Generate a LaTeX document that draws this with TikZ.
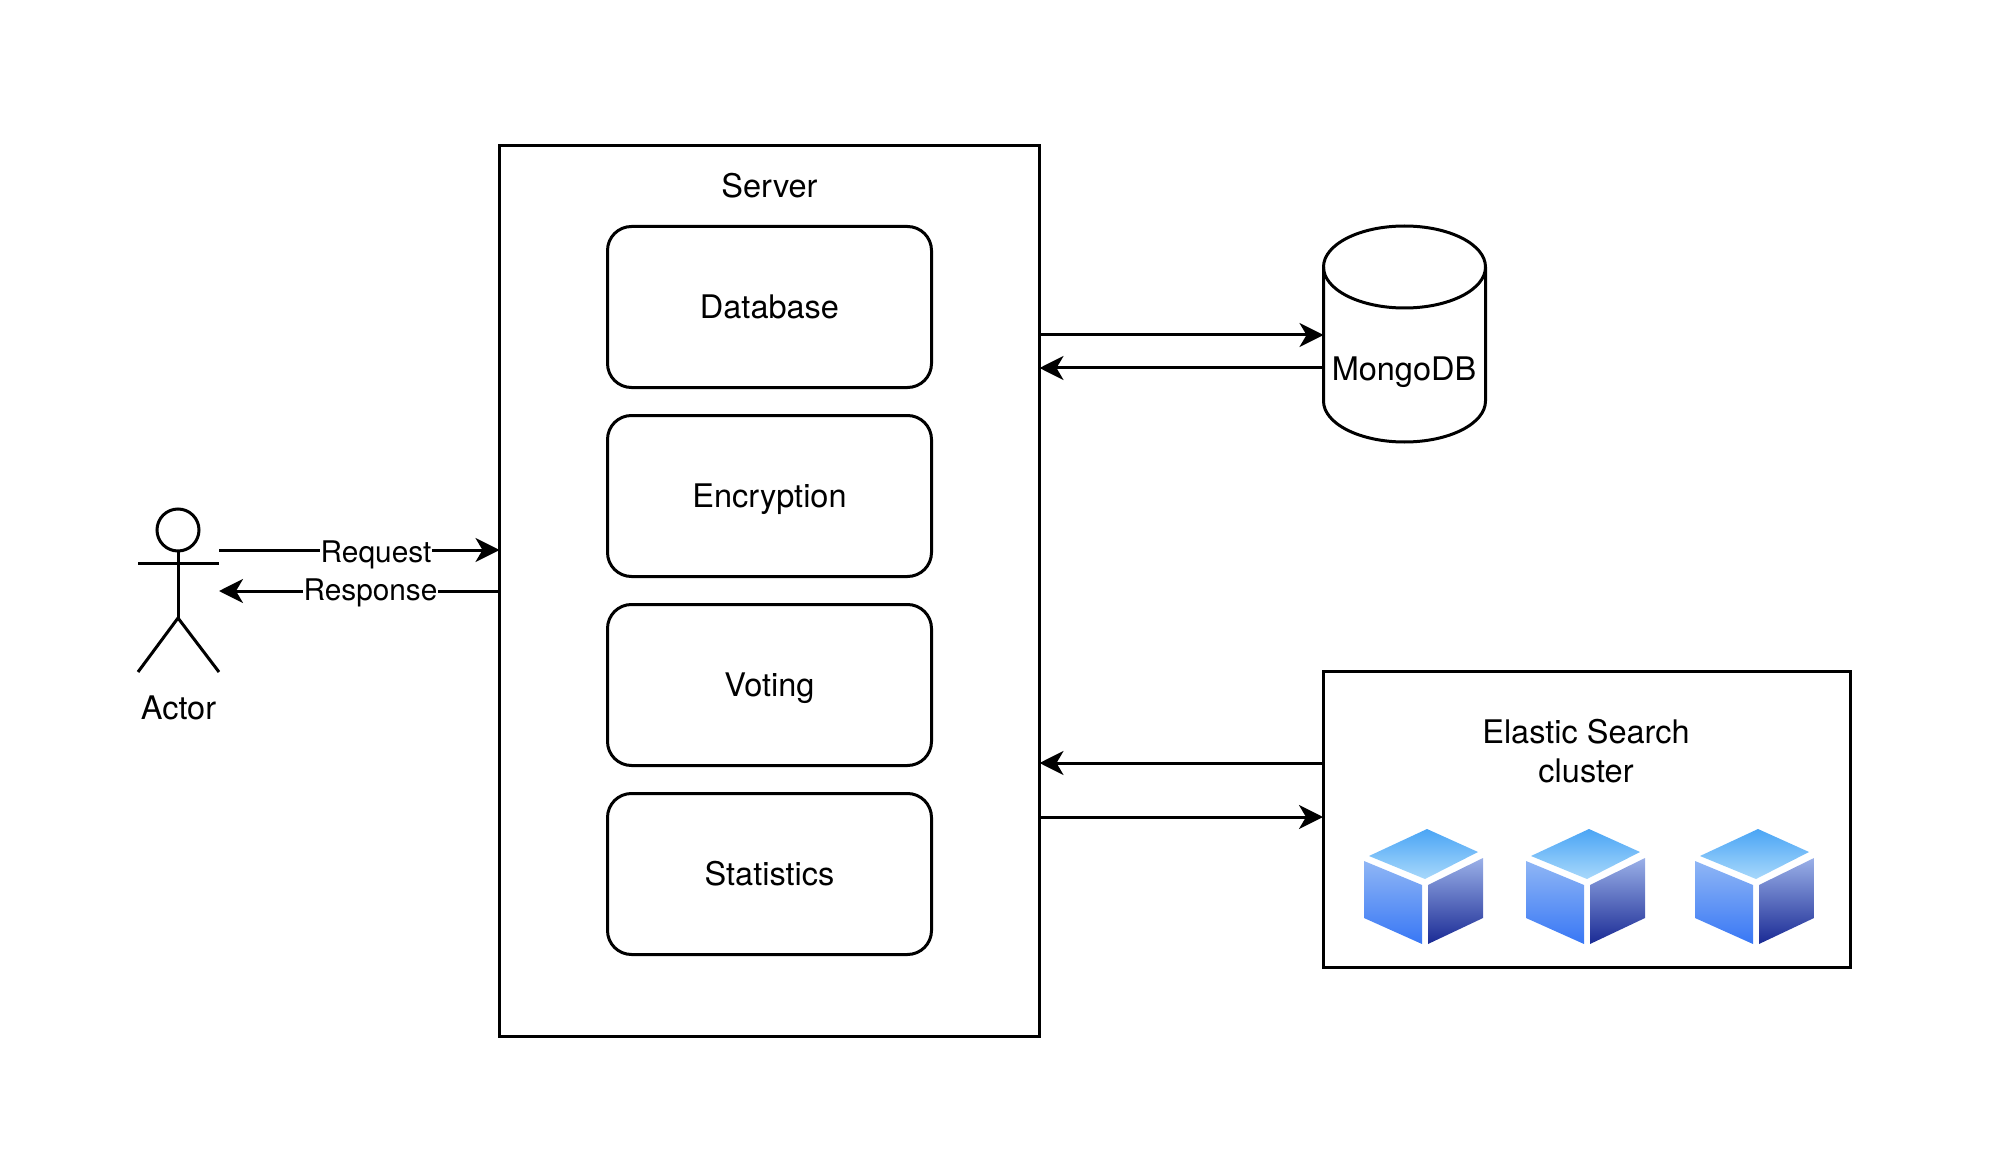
\documentclass[tikz,border=0pt]{standalone}
\usepackage{fontspec}
\setmainfont{TeX Gyre Heros}
\usetikzlibrary{arrows.meta, calc}

\definecolor{topa}{HTML}{4AA5F5}
\definecolor{topb}{HTML}{A8D8FB}
\definecolor{lefta}{HTML}{8FB6F5}
\definecolor{leftb}{HTML}{3877F5}
\definecolor{righta}{HTML}{9AB0E8}
\definecolor{rightb}{HTML}{1A2A94}

\tikzset{
    shape line/.style={draw=black, line width=3pt, outer sep=0pt},
    outer box/.style={shape line, rectangle, inner sep=0pt},
    module/.style={shape line, rectangle, rounded corners=24pt, minimum width=324pt, minimum height=161pt, inner sep=0pt, text height=23pt, text depth=0pt},
    link/.style={line width=3pt, -{Stealth[length=24pt, width=24pt, inset=7pt]}},
    txt/.style={inner sep=0pt, align=center},
    edge text/.style={txt, fill=white, inner xsep=1pt, font=\fontsize{29.8}{36}\selectfont, text height=21pt, text depth=6pt},
}

\begin{document}
\begin{tikzpicture}[x=1pt, y=-1pt, font=\fontsize{32.5}{39}\selectfont]
    \useasboundingbox (0,0) rectangle (1990,1150);

    % Server and its modules
    \node[outer box, minimum width=540pt, minimum height=891pt] (server) at (769.5,591) {};
    \node[txt] (servertext) at (769.5,186) {Server};
    \node[module] (database) at (769.5,307) {Database};
    \node[module] (encryption) at (769.5,496) {Encryption};
    \node[module] (voting) at (769.5,685) {Voting};
    \node[module] (statistics) at (769.5,874) {Statistics};

    % Actor
    \node[shape line, circle, minimum size=42pt, inner sep=0pt] (head) at (178,530) {};
    \coordinate (hip) at (178,618);
    \coordinate (armleft) at (138,563.5);
    \coordinate (armright) at (219,563.5);
    \coordinate (footleft) at (138,672);
    \coordinate (footright) at (219,672);
    \draw[line width=3pt] (head.south) -- (hip);
    \draw[line width=3pt] (armleft) -- (armright);
    \draw[line width=3pt] (footleft) -- (hip) -- (footright);
    \node[txt] (actortext) at (178.5,708) {Actor};

    % Request and response
    \coordinate (reqstart) at (219,550);
    \coordinate (resend) at (219,591);
    \draw[link] (reqstart) -- (reqstart -| server.west)
        node[edge text, pos=0.56, yshift=-4.5pt] (reqtext) {Request};
    \draw[link] (resend -| server.west) -- (resend)
        node[edge text, pos=0.46, yshift=-1.5pt] (restext) {Response};

    % MongoDB
    \node[minimum width=162pt, minimum height=216pt, inner sep=0pt, outer sep=0pt] (mongo) at (1404.5,334) {};
    \coordinate (mongotop) at ($(mongo.north west)+(0,41)$);
    \coordinate (mongobase) at ($(mongo.south west)+(0,-41)$);
    \draw[line width=3pt] (mongotop) arc (180:360:81 and 41) -- ($(mongobase)+(162,0)$)
        arc (0:180:81 and 41) -- cycle;
    \draw[line width=3pt] (mongotop) arc (180:0:81 and 41);
    \node[txt] (mongotext) at (1404,372) {MongoDB};
    \coordinate (mongoin) at (mongo.west |- 0,335);
    \coordinate (mongoback) at (mongo.west |- 0,368);
    \draw[link] (mongoin -| server.east) -- (mongoin);
    \draw[link] (mongoback) -- (mongoback -| server.east);

    % Elastic Search
    \node[outer box, minimum width=527pt, minimum height=296pt] (elastic) at (1586.5,819.5) {};
    \node[txt] (elastictext) at (1586,751.5) {Elastic Search\\cluster};
    \coordinate (elasticback) at (elastic.west |- 0,763);
    \coordinate (elasticin) at (elastic.west |- 0,817);
    \draw[link] (elasticback) -- (elasticback -| server.east);
    \draw[link] (elasticin -| server.east) -- (elasticin);

    % Cubes
    \foreach \cx in {0,162,331} {
        \begin{scope}[shift={(\cx,-1)}]
            \shade[top color=topa, bottom color=topb] (1427,830) -- (1478,853) -- (1425,880) -- (1369,857) -- cycle;
            \shade[top color=lefta, bottom color=leftb] (1364,862) -- (1422,886) -- (1422,945) -- (1364,919) -- cycle;
            \shade[top color=righta, bottom color=rightb] (1428,886) -- (1483,859) -- (1483,919) -- (1428,945) -- cycle;
        \end{scope}
    }
\end{tikzpicture}
\end{document}
